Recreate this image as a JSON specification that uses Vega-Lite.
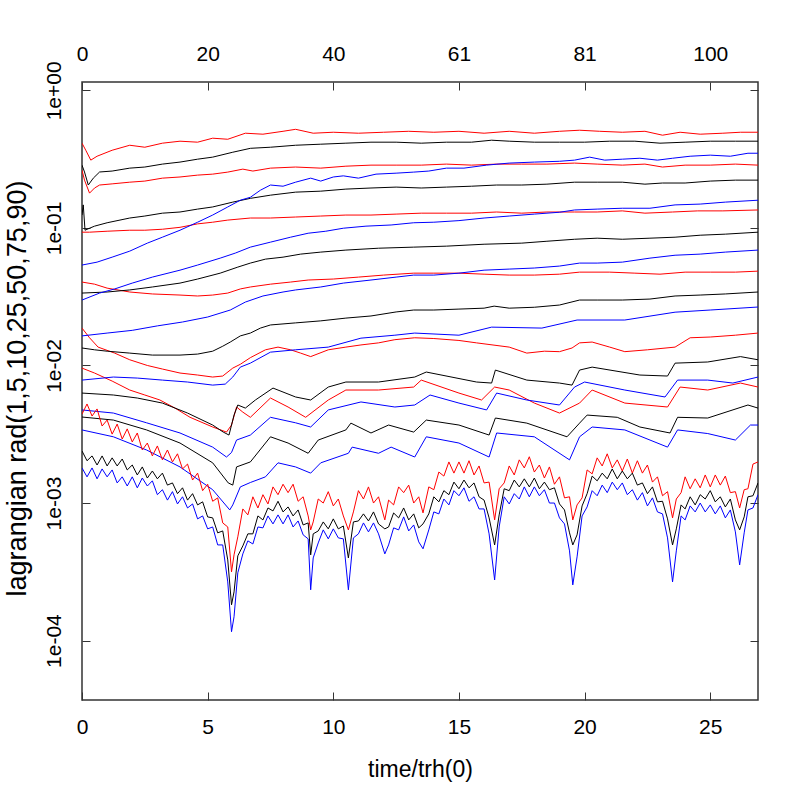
{
"$schema":"https://vega.github.io/schema/vega-lite/v6.json",
"width":676,"height":618,
"autosize":{"type":"none"},
"padding":{"left":82,"top":82,"right":42,"bottom":100},
"background":"white",
"config":{"view":{"stroke":"#333","strokeWidth":1.5},
"axis":{"labelFont":"Liberation Sans","titleFont":"Liberation Sans","labelFontSize":21,"titleFontSize":21,"titleFontWeight":"normal","labelColor":"#000","titleColor":"#000","tickColor":"#333","tickWidth":1,"domain":false,"grid":false,"tickSize":-8,"labelFlush":false,"labelOverlap":false}},
"datasets":{
"main":[
{"s":"red90","t":0,"r":0.413},{"s":"red90","t":0.15,"r":0.367},{"s":"red90","t":0.35,"r":0.311},{"s":"red90","t":0.6,"r":0.332},{"s":"red90","t":1.2,"r":0.367},{"s":"red90","t":1.9,"r":0.399},{"s":"red90","t":2.5,"r":0.386},{"s":"red90","t":3.2,"r":0.413},{"s":"red90","t":3.9,"r":0.427},{"s":"red90","t":4.6,"r":0.42},{"s":"red90","t":5.2,"r":0.449},{"s":"red90","t":5.8,"r":0.441},{"s":"red90","t":6.5,"r":0.488},{"s":"red90","t":7.2,"r":0.48},{"s":"red90","t":8,"r":0.504},{"s":"red90","t":8.5,"r":0.521},{"s":"red90","t":9.2,"r":0.488},{"s":"red90","t":10,"r":0.496},{"s":"red90","t":11,"r":0.488},{"s":"red90","t":12,"r":0.496},{"s":"red90","t":13,"r":0.504},{"s":"red90","t":14,"r":0.496},{"s":"red90","t":15,"r":0.504},{"s":"red90","t":16,"r":0.488},{"s":"red90","t":17,"r":0.504},{"s":"red90","t":18,"r":0.488},{"s":"red90","t":19,"r":0.504},{"s":"red90","t":19.8,"r":0.513},{"s":"red90","t":20.6,"r":0.504},{"s":"red90","t":21.5,"r":0.496},{"s":"red90","t":22.4,"r":0.504},{"s":"red90","t":23.1,"r":0.472},{"s":"red90","t":23.8,"r":0.496},{"s":"red90","t":24.6,"r":0.48},{"s":"red90","t":25.5,"r":0.488},{"s":"red90","t":26.2,"r":0.496},{"s":"red90","t":26.9,"r":0.496},
{"s":"red75","t":0,"r":0.263},{"s":"red75","t":0.1,"r":0.2225},{"s":"red75","t":0.3,"r":0.179},{"s":"red75","t":0.5,"r":0.195},{"s":"red75","t":0.7,"r":0.205},{"s":"red75","t":1.2,"r":0.209},{"s":"red75","t":1.9,"r":0.215},{"s":"red75","t":2.5,"r":0.219},{"s":"red75","t":3.2,"r":0.23},{"s":"red75","t":3.9,"r":0.2345},{"s":"red75","t":4.6,"r":0.242},{"s":"red75","t":5.2,"r":0.246},{"s":"red75","t":5.8,"r":0.2545},{"s":"red75","t":6.4,"r":0.2675},{"s":"red75","t":6.8,"r":0.259},{"s":"red75","t":7.5,"r":0.272},{"s":"red75","t":8.5,"r":0.277},{"s":"red75","t":9.5,"r":0.272},{"s":"red75","t":10.5,"r":0.281},{"s":"red75","t":11.5,"r":0.286},{"s":"red75","t":12.5,"r":0.286},{"s":"red75","t":13.5,"r":0.286},{"s":"red75","t":14.5,"r":0.291},{"s":"red75","t":15.5,"r":0.286},{"s":"red75","t":16.5,"r":0.291},{"s":"red75","t":17.5,"r":0.291},{"s":"red75","t":18.5,"r":0.291},{"s":"red75","t":19.6,"r":0.296},{"s":"red75","t":20.5,"r":0.291},{"s":"red75","t":21.5,"r":0.286},{"s":"red75","t":22.4,"r":0.291},{"s":"red75","t":23.1,"r":0.277},{"s":"red75","t":24,"r":0.286},{"s":"red75","t":25,"r":0.286},{"s":"red75","t":26,"r":0.291},{"s":"red75","t":26.9,"r":0.286},
{"s":"red50","t":0,"r":0.0931},{"s":"red50","t":0.3,"r":0.0931},{"s":"red50","t":1,"r":0.0946},{"s":"red50","t":1.9,"r":0.0962},{"s":"red50","t":2.5,"r":0.0962},{"s":"red50","t":3.2,"r":0.0978},{"s":"red50","t":3.9,"r":0.101},{"s":"red50","t":4.6,"r":0.107},{"s":"red50","t":5.2,"r":0.11},{"s":"red50","t":5.8,"r":0.114},{"s":"red50","t":6.7,"r":0.118},{"s":"red50","t":7.5,"r":0.118},{"s":"red50","t":8.5,"r":0.12},{"s":"red50","t":9.5,"r":0.122},{"s":"red50","t":10.5,"r":0.124},{"s":"red50","t":11.5,"r":0.124},{"s":"red50","t":12.5,"r":0.126},{"s":"red50","t":13.5,"r":0.128},{"s":"red50","t":14.5,"r":0.128},{"s":"red50","t":15.5,"r":0.128},{"s":"red50","t":16.5,"r":0.1305},{"s":"red50","t":17.5,"r":0.128},{"s":"red50","t":18.5,"r":0.1305},{"s":"red50","t":19.6,"r":0.1305},{"s":"red50","t":20.5,"r":0.1305},{"s":"red50","t":21.5,"r":0.133},{"s":"red50","t":22.4,"r":0.128},{"s":"red50","t":23.5,"r":0.1305},{"s":"red50","t":24.5,"r":0.133},{"s":"red50","t":25.5,"r":0.133},{"s":"red50","t":26.9,"r":0.135},
{"s":"red25","t":0,"r":0.0404},{"s":"red25","t":0.5,"r":0.039},{"s":"red25","t":1,"r":0.0365},{"s":"red25","t":1.9,"r":0.0342},{"s":"red25","t":2.8,"r":0.0331},{"s":"red25","t":3.9,"r":0.0325},{"s":"red25","t":4.6,"r":0.032},{"s":"red25","t":5.2,"r":0.0325},{"s":"red25","t":5.8,"r":0.0336},{"s":"red25","t":6.3,"r":0.036},{"s":"red25","t":6.7,"r":0.0372},{"s":"red25","t":7.5,"r":0.039},{"s":"red25","t":8.3,"r":0.0404},{"s":"red25","t":9,"r":0.0418},{"s":"red25","t":10,"r":0.0425},{"s":"red25","t":11,"r":0.0439},{"s":"red25","t":12,"r":0.0454},{"s":"red25","t":13.2,"r":0.0469},{"s":"red25","t":14,"r":0.0469},{"s":"red25","t":15,"r":0.0469},{"s":"red25","t":16,"r":0.0461},{"s":"red25","t":17,"r":0.0454},{"s":"red25","t":18,"r":0.0454},{"s":"red25","t":19,"r":0.0461},{"s":"red25","t":19.8,"r":0.0477},{"s":"red25","t":21,"r":0.0477},{"s":"red25","t":22,"r":0.0469},{"s":"red25","t":23,"r":0.0461},{"s":"red25","t":24,"r":0.0477},{"s":"red25","t":25,"r":0.0477},{"s":"red25","t":26,"r":0.0477},{"s":"red25","t":26.9,"r":0.0485},
{"s":"red10","t":0,"r":0.0187},{"s":"red10","t":0.3,"r":0.0159},{"s":"red10","t":0.64,"r":0.0136},{"s":"red10","t":1.3,"r":0.0123},{"s":"red10","t":1.9,"r":0.011},{"s":"red10","t":2.6,"r":0.01},{"s":"red10","t":3.2,"r":0.00942},{"s":"red10","t":3.9,"r":0.00881},{"s":"red10","t":4.6,"r":0.00852},{"s":"red10","t":5.2,"r":0.00824},{"s":"red10","t":5.6,"r":0.00838},{"s":"red10","t":6,"r":0.00957},{"s":"red10","t":6.3,"r":0.0102},{"s":"red10","t":6.7,"r":0.0114},{"s":"red10","t":7.3,"r":0.013},{"s":"red10","t":7.8,"r":0.0136},{"s":"red10","t":8.3,"r":0.013},{"s":"red10","t":8.7,"r":0.0123},{"s":"red10","t":9.1,"r":0.0116},{"s":"red10","t":9.8,"r":0.013},{"s":"red10","t":10.5,"r":0.0136},{"s":"red10","t":11.1,"r":0.0141},{"s":"red10","t":11.8,"r":0.0146},{"s":"red10","t":12.45,"r":0.0154},{"s":"red10","t":13.24,"r":0.0159},{"s":"red10","t":14,"r":0.0157},{"s":"red10","t":15,"r":0.0152},{"s":"red10","t":15.7,"r":0.0146},{"s":"red10","t":17,"r":0.0136},{"s":"red10","t":17.7,"r":0.0123},{"s":"red10","t":18.4,"r":0.0127},{"s":"red10","t":19,"r":0.0126},{"s":"red10","t":19.5,"r":0.0134},{"s":"red10","t":19.8,"r":0.0146},{"s":"red10","t":20.3,"r":0.0148},{"s":"red10","t":21,"r":0.0136},{"s":"red10","t":21.6,"r":0.0126},{"s":"red10","t":22.5,"r":0.013},{"s":"red10","t":23.6,"r":0.0136},{"s":"red10","t":24.2,"r":0.0159},{"s":"red10","t":25,"r":0.0161},{"s":"red10","t":26,"r":0.0166},{"s":"red10","t":26.9,"r":0.0172},
{"s":"red5","t":0,"r":0.00957},{"s":"red5","t":0.5,"r":0.00881},{"s":"red5","t":1.2,"r":0.0077},{"s":"red5","t":1.9,"r":0.00663},{"s":"red5","t":2.5,"r":0.0061},{"s":"red5","t":3.1,"r":0.00561},{"s":"red5","t":3.7,"r":0.0049},{"s":"red5","t":4.3,"r":0.0042},{"s":"red5","t":5.2,"r":0.00357},{"s":"red5","t":5.75,"r":0.00328},{"s":"red5","t":5.95,"r":0.00369},{"s":"red5","t":6.15,"r":0.00499},{"s":"red5","t":6.4,"r":0.00458},{"s":"red5","t":6.7,"r":0.0042},{"s":"red5","t":7.5,"r":0.0058},{"s":"red5","t":8.2,"r":0.00499},{"s":"red5","t":8.9,"r":0.0042},{"s":"red5","t":9.8,"r":0.00561},{"s":"red5","t":10.5,"r":0.00663},{"s":"red5","t":11.8,"r":0.00663},{"s":"red5","t":13.2,"r":0.00697},{"s":"red5","t":13.5,"r":0.00783},{"s":"red5","t":15,"r":0.0063},{"s":"red5","t":15.9,"r":0.00561},{"s":"red5","t":16.42,"r":0.00697},{"s":"red5","t":17,"r":0.00663},{"s":"red5","t":18,"r":0.00533},{"s":"red5","t":19,"r":0.00451},{"s":"red5","t":19.8,"r":0.00533},{"s":"red5","t":20.3,"r":0.00663},{"s":"red5","t":21.6,"r":0.00533},{"s":"red5","t":23.3,"r":0.00499},{"s":"red5","t":23.8,"r":0.00697},{"s":"red5","t":24.9,"r":0.00663},{"s":"red5","t":26.2,"r":0.00745},{"s":"red5","t":26.9,"r":0.00697},
{"s":"black90","t":0,"r":0.286},{"s":"black90","t":0.1,"r":0.255},{"s":"black90","t":0.25,"r":0.205},{"s":"black90","t":0.45,"r":0.23},{"s":"black90","t":0.7,"r":0.255},{"s":"black90","t":1.2,"r":0.259},{"s":"black90","t":1.9,"r":0.272},{"s":"black90","t":2.5,"r":0.277},{"s":"black90","t":3.2,"r":0.291},{"s":"black90","t":3.9,"r":0.301},{"s":"black90","t":4.6,"r":0.316},{"s":"black90","t":5.2,"r":0.327},{"s":"black90","t":6,"r":0.355},{"s":"black90","t":6.7,"r":0.379},{"s":"black90","t":7.5,"r":0.386},{"s":"black90","t":8.5,"r":0.399},{"s":"black90","t":9.5,"r":0.406},{"s":"black90","t":10.5,"r":0.413},{"s":"black90","t":11.5,"r":0.42},{"s":"black90","t":12.5,"r":0.42},{"s":"black90","t":13.5,"r":0.413},{"s":"black90","t":14.5,"r":0.42},{"s":"black90","t":15.5,"r":0.42},{"s":"black90","t":16.3,"r":0.434},{"s":"black90","t":17,"r":0.427},{"s":"black90","t":18,"r":0.42},{"s":"black90","t":19,"r":0.42},{"s":"black90","t":20,"r":0.42},{"s":"black90","t":21,"r":0.427},{"s":"black90","t":22,"r":0.427},{"s":"black90","t":23,"r":0.413},{"s":"black90","t":24,"r":0.42},{"s":"black90","t":25,"r":0.427},{"s":"black90","t":26,"r":0.427},{"s":"black90","t":26.9,"r":0.427},
{"s":"black75","t":0,"r":0.124},{"s":"black75","t":0.05,"r":0.147},{"s":"black75","t":0.12,"r":0.0962},{"s":"black75","t":0.3,"r":0.0995},{"s":"black75","t":0.5,"r":0.103},{"s":"black75","t":1,"r":0.109},{"s":"black75","t":1.9,"r":0.118},{"s":"black75","t":2.5,"r":0.122},{"s":"black75","t":3.2,"r":0.128},{"s":"black75","t":3.9,"r":0.1305},{"s":"black75","t":4.6,"r":0.137},{"s":"black75","t":5.2,"r":0.142},{"s":"black75","t":6,"r":0.154},{"s":"black75","t":6.7,"r":0.164},{"s":"black75","t":7.5,"r":0.173},{"s":"black75","t":8.5,"r":0.182},{"s":"black75","t":9.5,"r":0.185},{"s":"black75","t":10.5,"r":0.1915},{"s":"black75","t":11.5,"r":0.195},{"s":"black75","t":12.5,"r":0.198},{"s":"black75","t":13.5,"r":0.195},{"s":"black75","t":14.5,"r":0.198},{"s":"black75","t":15.5,"r":0.201},{"s":"black75","t":16.5,"r":0.205},{"s":"black75","t":17.5,"r":0.205},{"s":"black75","t":18.5,"r":0.208},{"s":"black75","t":19.6,"r":0.215},{"s":"black75","t":20.5,"r":0.215},{"s":"black75","t":21.5,"r":0.215},{"s":"black75","t":22.4,"r":0.208},{"s":"black75","t":23.1,"r":0.212},{"s":"black75","t":24,"r":0.212},{"s":"black75","t":25,"r":0.219},{"s":"black75","t":26,"r":0.2225},{"s":"black75","t":26.9,"r":0.2225},
{"s":"black50","t":0,"r":0.0336},{"s":"black50","t":1,"r":0.0342},{"s":"black50","t":1.9,"r":0.0354},{"s":"black50","t":2.8,"r":0.0372},{"s":"black50","t":3.9,"r":0.0397},{"s":"black50","t":4.6,"r":0.0425},{"s":"black50","t":5.5,"r":0.0469},{"s":"black50","t":6.2,"r":0.0519},{"s":"black50","t":6.7,"r":0.0555},{"s":"black50","t":7.3,"r":0.0593},{"s":"black50","t":8,"r":0.0613},{"s":"black50","t":8.7,"r":0.0645},{"s":"black50","t":9.5,"r":0.0667},{"s":"black50","t":10.5,"r":0.069},{"s":"black50","t":11.8,"r":0.0712},{"s":"black50","t":13.2,"r":0.0725},{"s":"black50","t":14.5,"r":0.0737},{"s":"black50","t":16,"r":0.0761},{"s":"black50","t":17.5,"r":0.0775},{"s":"black50","t":18.5,"r":0.08},{"s":"black50","t":19.6,"r":0.0827},{"s":"black50","t":20.5,"r":0.0842},{"s":"black50","t":21.5,"r":0.0827},{"s":"black50","t":22.6,"r":0.0842},{"s":"black50","t":23.6,"r":0.0856},{"s":"black50","t":24.6,"r":0.0885},{"s":"black50","t":25.6,"r":0.0901},{"s":"black50","t":26.9,"r":0.0931},
{"s":"black25","t":0,"r":0.0134},{"s":"black25","t":0.5,"r":0.013},{"s":"black25","t":1,"r":0.0127},{"s":"black25","t":1.9,"r":0.0123},{"s":"black25","t":2.8,"r":0.0119},{"s":"black25","t":3.9,"r":0.0119},{"s":"black25","t":4.6,"r":0.0121},{"s":"black25","t":5.2,"r":0.0127},{"s":"black25","t":5.6,"r":0.0138},{"s":"black25","t":5.9,"r":0.0148},{"s":"black25","t":6.3,"r":0.0164},{"s":"black25","t":6.7,"r":0.0172},{"s":"black25","t":7.1,"r":0.0187},{"s":"black25","t":7.5,"r":0.0197},{"s":"black25","t":8.5,"r":0.0204},{"s":"black25","t":9.5,"r":0.0211},{"s":"black25","t":10.5,"r":0.0221},{"s":"black25","t":11.5,"r":0.0229},{"s":"black25","t":12.5,"r":0.0245},{"s":"black25","t":13.2,"r":0.0253},{"s":"black25","t":14,"r":0.0253},{"s":"black25","t":15,"r":0.0257},{"s":"black25","t":16,"r":0.0261},{"s":"black25","t":16.4,"r":0.027},{"s":"black25","t":17,"r":0.0261},{"s":"black25","t":18,"r":0.0265},{"s":"black25","t":19,"r":0.0275},{"s":"black25","t":19.8,"r":0.0299},{"s":"black25","t":20.5,"r":0.0299},{"s":"black25","t":21.5,"r":0.0299},{"s":"black25","t":22.6,"r":0.0304},{"s":"black25","t":23.6,"r":0.032},{"s":"black25","t":24.6,"r":0.0325},{"s":"black25","t":25.6,"r":0.0331},{"s":"black25","t":26.9,"r":0.0342},
{"s":"black10","t":0,"r":0.0063},{"s":"black10","t":1.25,"r":0.0061},{"s":"black10","t":2.2,"r":0.0058},{"s":"black10","t":3.2,"r":0.00533},{"s":"black10","t":4.2,"r":0.00451},{"s":"black10","t":5.2,"r":0.00369},{"s":"black10","t":5.62,"r":0.00328},{"s":"black10","t":5.85,"r":0.00312},{"s":"black10","t":6.05,"r":0.00436},{"s":"black10","t":6.2,"r":0.00516},{"s":"black10","t":6.5,"r":0.0049},{"s":"black10","t":6.9,"r":0.00561},{"s":"black10","t":7.6,"r":0.00685},{"s":"black10","t":8.5,"r":0.0059},{"s":"black10","t":9.1,"r":0.00561},{"s":"black10","t":9.8,"r":0.00697},{"s":"black10","t":10.5,"r":0.00758},{"s":"black10","t":11.8,"r":0.00758},{"s":"black10","t":13.24,"r":0.00824},{"s":"black10","t":13.7,"r":0.00896},{"s":"black10","t":15.7,"r":0.00758},{"s":"black10","t":16.3,"r":0.00745},{"s":"black10","t":16.45,"r":0.00926},{"s":"black10","t":17.7,"r":0.00783},{"s":"black10","t":19,"r":0.00745},{"s":"black10","t":19.5,"r":0.0072},{"s":"black10","t":19.8,"r":0.00926},{"s":"black10","t":20.3,"r":0.00973},{"s":"black10","t":22.2,"r":0.00852},{"s":"black10","t":23.3,"r":0.00838},{"s":"black10","t":23.6,"r":0.0104},{"s":"black10","t":24.9,"r":0.0106},{"s":"black10","t":26.2,"r":0.0116},{"s":"black10","t":26.9,"r":0.011},
{"s":"black5","t":0,"r":0.00422},{"s":"black5","t":1.25,"r":0.00401},{"s":"black5","t":2.57,"r":0.0034},{"s":"black5","t":3.9,"r":0.00273},{"s":"black5","t":5.2,"r":0.00196},{"s":"black5","t":5.82,"r":0.0014},{"s":"black5","t":6,"r":0.00135},{"s":"black5","t":6.15,"r":0.00183},{"s":"black5","t":6.7,"r":0.00199},{"s":"black5","t":7.5,"r":0.00303},{"s":"black5","t":8.2,"r":0.00273},{"s":"black5","t":9,"r":0.0023},{"s":"black5","t":9.4,"r":0.00287},{"s":"black5","t":10.5,"r":0.0034},{"s":"black5","t":10.7,"r":0.00381},{"s":"black5","t":11.5,"r":0.00323},{"s":"black5","t":12.2,"r":0.00369},{"s":"black5","t":13.2,"r":0.00328},{"s":"black5","t":13.7,"r":0.00401},{"s":"black5","t":15,"r":0.00369},{"s":"black5","t":16.2,"r":0.00312},{"s":"black5","t":16.45,"r":0.00415},{"s":"black5","t":17.7,"r":0.00381},{"s":"black5","t":19.3,"r":0.00303},{"s":"black5","t":19.8,"r":0.00381},{"s":"black5","t":20.1,"r":0.00436},{"s":"black5","t":21.3,"r":0.0042},{"s":"black5","t":22.2,"r":0.00357},{"s":"black5","t":23.4,"r":0.00323},{"s":"black5","t":23.7,"r":0.0042},{"s":"black5","t":24.9,"r":0.00415},{"s":"black5","t":26.5,"r":0.00516},{"s":"black5","t":26.9,"r":0.0049},
{"s":"blue90","t":0,"r":0.0537},{"s":"blue90","t":0.6,"r":0.0564},{"s":"blue90","t":1.2,"r":0.0613},{"s":"blue90","t":1.9,"r":0.0678},{"s":"blue90","t":2.6,"r":0.0775},{"s":"blue90","t":3.2,"r":0.0856},{"s":"blue90","t":3.9,"r":0.0962},{"s":"blue90","t":4.6,"r":0.11},{"s":"blue90","t":5.2,"r":0.124},{"s":"blue90","t":5.8,"r":0.142},{"s":"blue90","t":6.3,"r":0.159},{"s":"blue90","t":6.7,"r":0.167},{"s":"blue90","t":7.1,"r":0.188},{"s":"blue90","t":7.5,"r":0.205},{"s":"blue90","t":8,"r":0.201},{"s":"blue90","t":8.5,"r":0.215},{"s":"blue90","t":9.1,"r":0.23},{"s":"blue90","t":9.5,"r":0.219},{"s":"blue90","t":10,"r":0.2345},{"s":"blue90","t":10.4,"r":0.239},{"s":"blue90","t":11,"r":0.23},{"s":"blue90","t":11.7,"r":0.246},{"s":"blue90","t":12.5,"r":0.25},{"s":"blue90","t":13.2,"r":0.2545},{"s":"blue90","t":13.8,"r":0.259},{"s":"blue90","t":14.5,"r":0.272},{"s":"blue90","t":15.2,"r":0.272},{"s":"blue90","t":16.1,"r":0.286},{"s":"blue90","t":17,"r":0.296},{"s":"blue90","t":18,"r":0.301},{"s":"blue90","t":19,"r":0.305},{"s":"blue90","t":19.6,"r":0.311},{"s":"blue90","t":20.2,"r":0.327},{"s":"blue90","t":20.8,"r":0.311},{"s":"blue90","t":21.5,"r":0.316},{"s":"blue90","t":22.2,"r":0.321},{"s":"blue90","t":22.9,"r":0.311},{"s":"blue90","t":23.5,"r":0.321},{"s":"blue90","t":24.2,"r":0.332},{"s":"blue90","t":25,"r":0.338},{"s":"blue90","t":25.8,"r":0.332},{"s":"blue90","t":26.5,"r":0.349},{"s":"blue90","t":26.9,"r":0.349},
{"s":"blue75","t":0,"r":0.0299},{"s":"blue75","t":0.7,"r":0.0336},{"s":"blue75","t":1.3,"r":0.036},{"s":"blue75","t":2,"r":0.0397},{"s":"blue75","t":2.8,"r":0.0439},{"s":"blue75","t":3.9,"r":0.0493},{"s":"blue75","t":4.6,"r":0.0537},{"s":"blue75","t":5.5,"r":0.0603},{"s":"blue75","t":6.1,"r":0.0656},{"s":"blue75","t":6.7,"r":0.0725},{"s":"blue75","t":7.5,"r":0.0788},{"s":"blue75","t":8.3,"r":0.0856},{"s":"blue75","t":9,"r":0.0915},{"s":"blue75","t":9.7,"r":0.0946},{"s":"blue75","t":10.4,"r":0.0995},{"s":"blue75","t":11.3,"r":0.103},{"s":"blue75","t":12.3,"r":0.105},{"s":"blue75","t":13.2,"r":0.109},{"s":"blue75","t":14,"r":0.11},{"s":"blue75","t":15,"r":0.113},{"s":"blue75","t":16,"r":0.118},{"s":"blue75","t":17,"r":0.122},{"s":"blue75","t":18,"r":0.126},{"s":"blue75","t":19,"r":0.13},{"s":"blue75","t":19.6,"r":0.135},{"s":"blue75","t":20.5,"r":0.137},{"s":"blue75","t":21.5,"r":0.139},{"s":"blue75","t":22.6,"r":0.139},{"s":"blue75","t":23.6,"r":0.147},{"s":"blue75","t":24.6,"r":0.149},{"s":"blue75","t":25.6,"r":0.154},{"s":"blue75","t":26.9,"r":0.159},
{"s":"blue50","t":0,"r":0.0164},{"s":"blue50","t":1,"r":0.0172},{"s":"blue50","t":2,"r":0.018},{"s":"blue50","t":3,"r":0.0194},{"s":"blue50","t":4,"r":0.0207},{"s":"blue50","t":5,"r":0.0225},{"s":"blue50","t":5.9,"r":0.0253},{"s":"blue50","t":6.5,"r":0.0289},{"s":"blue50","t":7.2,"r":0.032},{"s":"blue50","t":8,"r":0.0342},{"s":"blue50","t":8.5,"r":0.0354},{"s":"blue50","t":9.5,"r":0.0372},{"s":"blue50","t":10.4,"r":0.0397},{"s":"blue50","t":11.5,"r":0.0418},{"s":"blue50","t":12.5,"r":0.0439},{"s":"blue50","t":13.2,"r":0.0454},{"s":"blue50","t":14,"r":0.0454},{"s":"blue50","t":15,"r":0.0469},{"s":"blue50","t":16,"r":0.0493},{"s":"blue50","t":17,"r":0.0502},{"s":"blue50","t":18,"r":0.0511},{"s":"blue50","t":19,"r":0.0528},{"s":"blue50","t":19.8,"r":0.0555},{"s":"blue50","t":20.5,"r":0.0555},{"s":"blue50","t":21.5,"r":0.0564},{"s":"blue50","t":22.6,"r":0.0603},{"s":"blue50","t":23.6,"r":0.0633},{"s":"blue50","t":24.6,"r":0.0645},{"s":"blue50","t":25.6,"r":0.0667},{"s":"blue50","t":26.9,"r":0.069},
{"s":"blue25","t":0,"r":0.00783},{"s":"blue25","t":1.25,"r":0.00824},{"s":"blue25","t":2.2,"r":0.0081},{"s":"blue25","t":3.2,"r":0.00783},{"s":"blue25","t":4.2,"r":0.00758},{"s":"blue25","t":5.2,"r":0.0072},{"s":"blue25","t":5.7,"r":0.00732},{"s":"blue25","t":6,"r":0.00824},{"s":"blue25","t":6.3,"r":0.00973},{"s":"blue25","t":6.7,"r":0.0104},{"s":"blue25","t":7.5,"r":0.0125},{"s":"blue25","t":8.5,"r":0.013},{"s":"blue25","t":9.8,"r":0.0136},{"s":"blue25","t":11.1,"r":0.0158},{"s":"blue25","t":12.45,"r":0.0166},{"s":"blue25","t":13.24,"r":0.0172},{"s":"blue25","t":15,"r":0.0166},{"s":"blue25","t":16.3,"r":0.019},{"s":"blue25","t":18.3,"r":0.0187},{"s":"blue25","t":19.7,"r":0.0214},{"s":"blue25","t":21.6,"r":0.0214},{"s":"blue25","t":23.6,"r":0.0244},{"s":"blue25","t":25,"r":0.0253},{"s":"blue25","t":26.9,"r":0.0266},
{"s":"blue10","t":0,"r":0.00475},{"s":"blue10","t":1.25,"r":0.00451},{"s":"blue10","t":2.57,"r":0.00383},{"s":"blue10","t":3.9,"r":0.00323},{"s":"blue10","t":5.2,"r":0.00255},{"s":"blue10","t":5.75,"r":0.00216},{"s":"blue10","t":5.95,"r":0.00233},{"s":"blue10","t":6.15,"r":0.00287},{"s":"blue10","t":6.7,"r":0.00312},{"s":"blue10","t":7.5,"r":0.0042},{"s":"blue10","t":8.5,"r":0.00383},{"s":"blue10","t":9.1,"r":0.00357},{"s":"blue10","t":9.8,"r":0.00475},{"s":"blue10","t":11.1,"r":0.00543},{"s":"blue10","t":12.45,"r":0.00499},{"s":"blue10","t":13.24,"r":0.00516},{"s":"blue10","t":13.85,"r":0.0061},{"s":"blue10","t":15,"r":0.00533},{"s":"blue10","t":16.1,"r":0.00475},{"s":"blue10","t":16.5,"r":0.0063},{"s":"blue10","t":17.7,"r":0.00561},{"s":"blue10","t":19,"r":0.00516},{"s":"blue10","t":19.6,"r":0.00697},{"s":"blue10","t":20,"r":0.00758},{"s":"blue10","t":21.6,"r":0.00663},{"s":"blue10","t":23.2,"r":0.0059},{"s":"blue10","t":23.7,"r":0.00783},{"s":"blue10","t":24.9,"r":0.00783},{"s":"blue10","t":25.9,"r":0.00745},{"s":"blue10","t":26.9,"r":0.00824},
{"s":"blue5","t":0,"r":0.0034},{"s":"blue5","t":1.25,"r":0.00303},{"s":"blue5","t":2.57,"r":0.00243},{"s":"blue5","t":3.9,"r":0.00183},{"s":"blue5","t":5.2,"r":0.00125},{"s":"blue5","t":5.88,"r":0.000891},{"s":"blue5","t":6,"r":0.000969},{"s":"blue5","t":6.3,"r":0.00131},{"s":"blue5","t":6.7,"r":0.00141},{"s":"blue5","t":7.3,"r":0.00155},{"s":"blue5","t":7.8,"r":0.00196},{"s":"blue5","t":8.5,"r":0.00183},{"s":"blue5","t":9.1,"r":0.00165},{"s":"blue5","t":9.5,"r":0.00196},{"s":"blue5","t":10.6,"r":0.0023},{"s":"blue5","t":10.75,"r":0.00255},{"s":"blue5","t":11.8,"r":0.0023},{"s":"blue5","t":12.3,"r":0.00255},{"s":"blue5","t":13.24,"r":0.00216},{"s":"blue5","t":13.7,"r":0.00303},{"s":"blue5","t":15,"r":0.00273},{"s":"blue5","t":16.2,"r":0.00216},{"s":"blue5","t":16.5,"r":0.00323},{"s":"blue5","t":18,"r":0.00303},{"s":"blue5","t":19.4,"r":0.00206},{"s":"blue5","t":19.8,"r":0.00303},{"s":"blue5","t":20.3,"r":0.00357},{"s":"blue5","t":21.6,"r":0.0034},{"s":"blue5","t":23.3,"r":0.00255},{"s":"blue5","t":23.7,"r":0.0034},{"s":"blue5","t":24.9,"r":0.0032},{"s":"blue5","t":26,"r":0.00287},{"s":"blue5","t":26.6,"r":0.00369},{"s":"blue5","t":26.9,"r":0.00369}
],
"core":[
{"t":0,"red1":0.00443,"black1":0.00239,"blue1":0.0018},{"t":0.2,"red1":0.00525,"black1":0.00203,"blue1":0.00155},{"t":0.4,"red1":0.00429,"black1":0.0022,"blue1":0.0018},{"t":0.6,"red1":0.00483,"black1":0.00189,"blue1":0.0015},{"t":0.8,"red1":0.00363,"black1":0.0022,"blue1":0.00177},{"t":1,"red1":0.00401,"black1":0.00186,"blue1":0.00155},{"t":1.2,"red1":0.00317,"black1":0.00213,"blue1":0.00174},{"t":1.4,"red1":0.00375,"black1":0.00186,"blue1":0.0014},{"t":1.6,"red1":0.00292,"black1":0.00209,"blue1":0.00155},{"t":1.8,"red1":0.00346,"black1":0.00174,"blue1":0.00133},{"t":2,"red1":0.00278,"black1":0.00189,"blue1":0.00155},{"t":2.2,"red1":0.00323,"black1":0.0016,"blue1":0.00129},{"t":2.4,"red1":0.00243,"black1":0.00183,"blue1":0.00152},{"t":2.6,"red1":0.00273,"black1":0.00152,"blue1":0.00133},{"t":2.8,"red1":0.0022,"black1":0.00171,"blue1":0.00145},{"t":3,"red1":0.0026,"black1":0.0015,"blue1":0.00115},{"t":3.2,"red1":0.00206,"black1":0.00165,"blue1":0.00125},{"t":3.4,"red1":0.00243,"black1":0.00135,"blue1":0.00105},{"t":3.6,"red1":0.00199,"black1":0.0014,"blue1":0.00121},{"t":3.8,"red1":0.00228,"black1":0.00117,"blue1":0.000985},{"t":4,"red1":0.00177,"black1":0.00129,"blue1":0.00111},{"t":4.2,"red1":0.00192,"black1":0.00105,"blue1":0.000921},{"t":4.4,"red1":0.00147,"black1":0.00117,"blue1":0.000985},{"t":4.6,"red1":0.00165,"black1":0.000969,"blue1":0.000767},{"t":4.8,"red1":0.00123,"black1":0.00102,"blue1":0.000806},{"t":5,"red1":0.00137,"black1":0.000793,"blue1":0.000649},{"t":5.2,"red1":0.00103,"black1":0.00078,"blue1":0.00067},{"t":5.4,"red1":0.00109,"black1":0.000607,"blue1":0.000496},{"t":5.6,"red1":0.000717,"black1":0.000627,"blue1":0.000496},{"t":5.8,"red1":0.00067,"black1":0.000386,"blue1":0.000267},{"t":5.95,"red1":0.000316,"black1":0.000182,"blue1":0.000116},{"t":6.05,"red1":0.00042,"black1":0.000226,"blue1":0.000149},{"t":6.2,"red1":0.000568,"black1":0.000413,"blue1":0.000311},{"t":6.4,"red1":0.000906,"black1":0.000488,"blue1":0.000427},{"t":6.6,"red1":0.00082,"black1":0.000597,"blue1":0.000531},{"t":6.8,"red1":0.00111,"black1":0.000597,"blue1":0.000504},{"t":7,"red1":0.000921,"black1":0.000806,"blue1":0.00067},{"t":7.2,"red1":0.00115,"black1":0.000754,"blue1":0.00066},{"t":7.4,"red1":0.000985,"black1":0.000921,"blue1":0.000806},{"t":7.6,"red1":0.00131,"black1":0.000876,"blue1":0.000705},{"t":7.8,"red1":0.00115,"black1":0.00103,"blue1":0.00082},{"t":8,"red1":0.00137,"black1":0.000862,"blue1":0.000705},{"t":8.2,"red1":0.00119,"black1":0.000937,"blue1":0.00082},{"t":8.4,"red1":0.00137,"black1":0.000806,"blue1":0.00067},{"t":8.6,"red1":0.00103,"black1":0.000891,"blue1":0.000741},{"t":8.8,"red1":0.00111,"black1":0.000693,"blue1":0.000587},{"t":9,"red1":0.000806,"black1":0.000717,"blue1":0.000549},{"t":9.1,"red1":0.000638,"black1":0.00042,"blue1":0.000234},{"t":9.2,"red1":0.000729,"black1":0.000597,"blue1":0.000399},{"t":9.4,"red1":0.00107,"black1":0.000627,"blue1":0.000513},{"t":9.6,"red1":0.001,"black1":0.000729,"blue1":0.000638},{"t":9.8,"red1":0.00121,"black1":0.000649,"blue1":0.000549},{"t":10,"red1":0.000953,"black1":0.000767,"blue1":0.000649},{"t":10.2,"red1":0.00107,"black1":0.000649,"blue1":0.000558},{"t":10.4,"red1":0.000806,"black1":0.000681,"blue1":0.000549},{"t":10.6,"red1":0.000638,"black1":0.000399,"blue1":0.000234},{"t":10.8,"red1":0.000862,"black1":0.000729,"blue1":0.000558},{"t":11,"red1":0.00123,"black1":0.000741,"blue1":0.000597},{"t":11.2,"red1":0.00107,"black1":0.000834,"blue1":0.000717},{"t":11.4,"red1":0.00131,"black1":0.000741,"blue1":0.000617},{"t":11.6,"red1":0.001,"black1":0.000862,"blue1":0.000717},{"t":11.8,"red1":0.00111,"black1":0.000705,"blue1":0.000597},{"t":12.05,"red1":0.000754,"black1":0.000649,"blue1":0.000427},{"t":12.2,"red1":0.00105,"black1":0.00067,"blue1":0.000496},{"t":12.4,"red1":0.000969,"black1":0.000847,"blue1":0.00066},{"t":12.6,"red1":0.00131,"black1":0.00078,"blue1":0.000638},{"t":12.8,"red1":0.00119,"black1":0.000921,"blue1":0.000793},{"t":13,"red1":0.00135,"black1":0.000754,"blue1":0.000627},{"t":13.2,"red1":0.001,"black1":0.000834,"blue1":0.000693},{"t":13.4,"red1":0.00111,"black1":0.00066,"blue1":0.000522},{"t":13.57,"red1":0.000848,"black1":0.000705,"blue1":0.000465},{"t":13.8,"red1":0.00131,"black1":0.000834,"blue1":0.000638},{"t":14,"red1":0.00125,"black1":0.00111,"blue1":0.000862},{"t":14.2,"red1":0.00168,"black1":0.00102,"blue1":0.000834},{"t":14.4,"red1":0.00157,"black1":0.00123,"blue1":0.00107},{"t":14.6,"red1":0.00199,"black1":0.00115,"blue1":0.000969},{"t":14.8,"red1":0.00165,"black1":0.00142,"blue1":0.00123},{"t":15,"red1":0.00199,"black1":0.00127,"blue1":0.00113},{"t":15.2,"red1":0.00165,"black1":0.00147,"blue1":0.00129},{"t":15.4,"red1":0.00203,"black1":0.00129,"blue1":0.00103},{"t":15.6,"red1":0.0016,"black1":0.0014,"blue1":0.00111},{"t":15.8,"red1":0.00186,"black1":0.00111,"blue1":0.000906},{"t":16,"red1":0.0014,"black1":0.00105,"blue1":0.000906},{"t":16.2,"red1":0.00142,"black1":0.00078,"blue1":0.000597},{"t":16.42,"red1":0.000754,"black1":0.000496,"blue1":0.000276},{"t":16.6,"red1":0.00127,"black1":0.00082,"blue1":0.00067},{"t":16.8,"red1":0.0014,"black1":0.00127,"blue1":0.00111},{"t":17,"red1":0.00186,"black1":0.00123,"blue1":0.000985},{"t":17.2,"red1":0.0016,"black1":0.00147,"blue1":0.00117},{"t":17.4,"red1":0.00206,"black1":0.00131,"blue1":0.00107},{"t":17.6,"red1":0.0018,"black1":0.0015,"blue1":0.00131},{"t":17.8,"red1":0.00217,"black1":0.00131,"blue1":0.00111},{"t":18,"red1":0.00168,"black1":0.00152,"blue1":0.00131},{"t":18.2,"red1":0.00189,"black1":0.00127,"blue1":0.00113},{"t":18.4,"red1":0.00152,"black1":0.00142,"blue1":0.00125},{"t":18.6,"red1":0.00183,"black1":0.00125,"blue1":0.001},{"t":18.8,"red1":0.00137,"black1":0.00129,"blue1":0.001},{"t":19,"red1":0.00155,"black1":0.000985,"blue1":0.00078},{"t":19.2,"red1":0.00109,"black1":0.000891,"blue1":0.000705},{"t":19.4,"red1":0.00111,"black1":0.000607,"blue1":0.000449},{"t":19.53,"red1":0.000754,"black1":0.000496,"blue1":0.000254},{"t":19.7,"red1":0.000969,"black1":0.000587,"blue1":0.000406},{"t":19.9,"red1":0.00109,"black1":0.000953,"blue1":0.000806},{"t":20.1,"red1":0.00174,"black1":0.00117,"blue1":0.000937},{"t":20.3,"red1":0.00163,"black1":0.00157,"blue1":0.00123},{"t":20.5,"red1":0.00213,"black1":0.00145,"blue1":0.00113},{"t":20.7,"red1":0.00186,"black1":0.00165,"blue1":0.00135},{"t":20.9,"red1":0.00228,"black1":0.0015,"blue1":0.00119},{"t":21.1,"red1":0.0018,"black1":0.00177,"blue1":0.00142},{"t":21.3,"red1":0.00206,"black1":0.0015,"blue1":0.00125},{"t":21.5,"red1":0.00171,"black1":0.00171,"blue1":0.0014},{"t":21.7,"red1":0.00209,"black1":0.0015,"blue1":0.00115},{"t":21.9,"red1":0.00165,"black1":0.00165,"blue1":0.00125},{"t":22.1,"red1":0.00203,"black1":0.00135,"blue1":0.00105},{"t":22.3,"red1":0.00165,"black1":0.0014,"blue1":0.00119},{"t":22.5,"red1":0.00189,"black1":0.00117,"blue1":0.000953},{"t":22.7,"red1":0.00142,"black1":0.00131,"blue1":0.00109},{"t":22.9,"red1":0.00155,"black1":0.00102,"blue1":0.000862},{"t":23.1,"red1":0.00113,"black1":0.00103,"blue1":0.000834},{"t":23.3,"red1":0.00121,"black1":0.000767,"blue1":0.000558},{"t":23.5,"red1":0.00078,"black1":0.000496,"blue1":0.000267},{"t":23.65,"red1":0.00107,"black1":0.000649,"blue1":0.000449},{"t":23.84,"red1":0.00119,"black1":0.000969,"blue1":0.000806},{"t":24,"red1":0.00155,"black1":0.000906,"blue1":0.000754},{"t":24.2,"red1":0.00127,"black1":0.00111,"blue1":0.000953},{"t":24.4,"red1":0.0015,"black1":0.000969,"blue1":0.000862},{"t":24.6,"red1":0.00129,"black1":0.00115,"blue1":0.001},{"t":24.8,"red1":0.0016,"black1":0.00107,"blue1":0.000862},{"t":25,"red1":0.00131,"black1":0.00123,"blue1":0.000969},{"t":25.2,"red1":0.0016,"black1":0.00102,"blue1":0.000834},{"t":25.4,"red1":0.00135,"black1":0.00111,"blue1":0.000953},{"t":25.6,"red1":0.00157,"black1":0.000937,"blue1":0.00078},{"t":25.8,"red1":0.00119,"black1":0.00107,"blue1":0.000891},{"t":26,"red1":0.00121,"black1":0.000754,"blue1":0.000617},{"t":26.17,"red1":0.000921,"black1":0.000638,"blue1":0.000355},{"t":26.35,"red1":0.00125,"black1":0.000793,"blue1":0.000607},{"t":26.5,"red1":0.00127,"black1":0.00111,"blue1":0.000891},{"t":26.7,"red1":0.00192,"black1":0.00113,"blue1":0.000921},{"t":26.9,"red1":0.00199,"black1":0.0014,"blue1":0.00115}
]},
"layer":[
{"data":{"name":"main"},
 "mark":{"type":"line","strokeWidth":1,"clip":true},
 "encoding":{
  "x":{"field":"t","type":"quantitative","scale":{"domain":[0,26.9],"nice":false,"zero":false},
   "axis":{"orient":"bottom","values":[0,5,10,15,20,25],"labelPadding":24,"labelBaseline":"top","title":"time/trh(0)","titleFontSize":23,"titleX":338,"titleY":76,"titleAlign":"center","titleBaseline":"alphabetic","titleAnchor":null}},
  "y":{"field":"r","type":"quantitative","scale":{"type":"log","domain":[3.7e-5,1.15],"nice":false},
   "axis":{"orient":"left","values":[1,0.1,0.01,0.001,0.0001],"labelExpr":"datum.value >= 1 ? '1e+00' : '1e-0' + round(-log(datum.value)/LN10)","labelAngle":270,"labelAlign":"center","labelBaseline":"alphabetic","labelPadding":30,"title":"lagrangian rad(1,5,10,25,50,75,90)","titleFontSize":27,"titleAngle":270,"titleX":-57,"titleY":306,"titleAlign":"center","titleBaseline":"alphabetic"}},
  "color":{"field":"s","type":"nominal","legend":null,
   "scale":{"domain":["red90","red75","red50","red25","red10","red5","red1","black90","black75","black50","black25","black10","black5","black1","blue90","blue75","blue50","blue25","blue10","blue5","blue1"],
   "range":["#ff0000","#ff0000","#ff0000","#ff0000","#ff0000","#ff0000","#ff0000","#000000","#000000","#000000","#000000","#000000","#000000","#000000","#0000ff","#0000ff","#0000ff","#0000ff","#0000ff","#0000ff","#0000ff"]}}}},
{"data":{"name":"core"},
 "transform":[{"fold":["red1","black1","blue1"],"as":["s","r"]}],
 "mark":{"type":"line","strokeWidth":1,"clip":true},
 "encoding":{
  "x":{"field":"t","type":"quantitative",
   "axis":{"orient":"top","values":[0,5,10,15,20,25],"labelExpr":"datum.value == 0 ? '0' : datum.value == 5 ? '20' : datum.value == 10 ? '40' : datum.value == 15 ? '61' : datum.value == 20 ? '81' : '100'","labelPadding":30,"labelBaseline":"alphabetic","title":null}},
  "y":{"field":"r","type":"quantitative",
   "axis":{"orient":"right","values":[1,0.1,0.01,0.001,0.0001],"labels":false,"title":null}},
  "color":{"field":"s","type":"nominal","legend":null}}}
],
"resolve":{"axis":{"x":"independent","y":"independent"}}
}
